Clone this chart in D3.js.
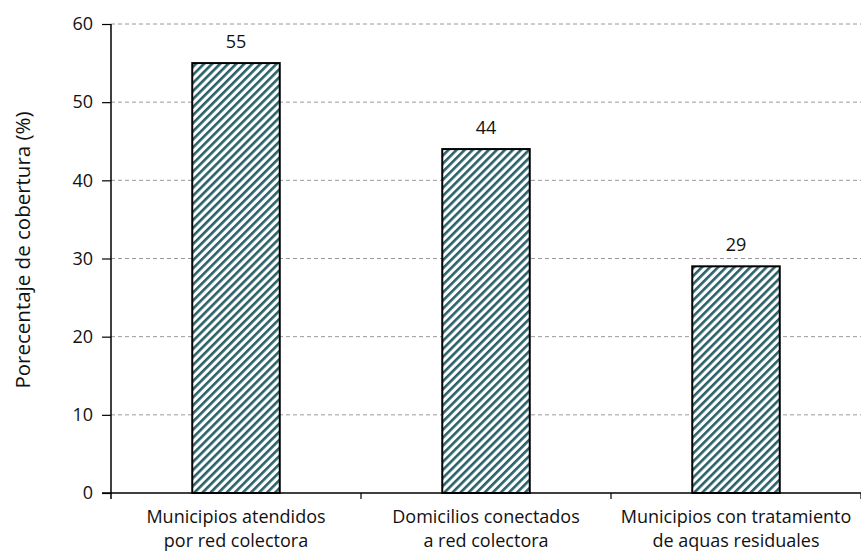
<!DOCTYPE html>
<html>
<head>
<meta charset="utf-8">
<script src="https://cdn.jsdelivr.net/npm/d3@7"></script>
<style>
  html, body { margin: 0; padding: 0; background: #fff; }
  svg { display: block; font-family: "Open Sans", "Noto Sans", sans-serif; }
</style>
</head>
<body>
<svg id="chart" width="861" height="555"></svg>
<script>
// Coverage of sewerage services
const categories = [
  ["Municipios atendidos", "por red colectora"],
  ["Domicilios conectados", "a red colectora"],
  ["Municipios con tratamiento", "de aquas residuales"]
];
const values = [55, 44, 29];
const yTicks = [0, 10, 20, 30, 40, 50, 60];
const yTitle = "Porecentaje de cobertura (%)";

const svg = d3.select("#chart");
const W = 861, H = 555;
const margin = { left: 111, right: 0, top: 24, bottom: 62 };

const x = d3.scaleBand()
  .domain(d3.range(values.length))
  .range([margin.left, W - margin.right])
  .paddingInner(0.65)
  .paddingOuter(0.325);

const y = d3.scaleLinear()
  .domain([0, 60])
  .range([H - margin.bottom, margin.top]);

// hatch fill
const defs = svg.append("defs");
const P = 5.7;
const pat = defs.append("pattern")
  .attr("id", "hatch")
  .attr("patternUnits", "userSpaceOnUse")
  .attr("width", P)
  .attr("height", P)
  .attr("patternTransform", "rotate(45)");
pat.append("rect").attr("width", P).attr("height", P).attr("fill", "#ffffff");
pat.append("rect").attr("x", 0).attr("y", 0).attr("width", 2.6).attr("height", P).attr("fill", "#2a6168");

// gridlines
svg.append("g")
  .selectAll("line")
  .data(yTicks.filter(d => d > 0))
  .join("line")
  .attr("x1", margin.left)
  .attr("x2", W)
  .attr("y1", d => y(d))
  .attr("y2", d => y(d))
  .attr("stroke", "#9a9a9a")
  .attr("stroke-width", 1)
  .attr("stroke-dasharray", "4,3");

// y axis
const yAxis = svg.append("g")
  .attr("transform", `translate(${margin.left},0)`)
  .call(d3.axisLeft(y).tickValues(yTicks).tickSize(9).tickPadding(9).tickSizeOuter(0));
yAxis.select(".domain").attr("stroke", "#000").attr("stroke-width", 1.5)
  .attr("d", `M0,${y(60)}V${y(0) + 6}`);
yAxis.selectAll(".tick line").attr("stroke", "#000").attr("stroke-width", 1.2);
yAxis.selectAll(".tick text").attr("font-size", 18).attr("fill", "#111")
  .attr("font-family", "'Open Sans', sans-serif");

// x axis
const bandEdges = [0, 1, 2].map(i => x(i) - x.step() * x.paddingInner() / 2);
const xAxisG = svg.append("g").attr("transform", `translate(0,${y(0)})`);
xAxisG.append("line")
  .attr("x1", margin.left - 9).attr("x2", W)
  .attr("y1", 0).attr("y2", 0)
  .attr("stroke", "#000").attr("stroke-width", 1.5);
xAxisG.selectAll("line.tk")
  .data(bandEdges.slice(1).concat([W]))
  .join("line")
  .attr("class", "tk")
  .attr("x1", d => d).attr("x2", d => d)
  .attr("y1", 0).attr("y2", 6)
  .attr("stroke", "#000").attr("stroke-width", 1.2);

// bars
svg.append("g")
  .selectAll("rect")
  .data(values)
  .join("rect")
  .attr("x", (d, i) => x(i))
  .attr("y", d => y(d))
  .attr("width", x.bandwidth())
  .attr("height", d => y(0) - y(d))
  .attr("fill", "url(#hatch)")
  .attr("stroke", "#000")
  .attr("stroke-width", 2);

// value labels
svg.append("g")
  .selectAll("text")
  .data(values)
  .join("text")
  .attr("x", (d, i) => x(i) + x.bandwidth() / 2)
  .attr("y", d => y(d) - 15)
  .attr("text-anchor", "middle")
  .attr("font-size", 18)
  .attr("fill", "#111")
  .text(d => d);

// category labels
const cat = svg.append("g")
  .selectAll("text")
  .data(categories)
  .join("text")
  .attr("x", (d, i) => x(i) + x.bandwidth() / 2)
  .attr("y", y(0) + 30)
  .attr("text-anchor", "middle")
  .attr("font-size", 18)
  .attr("fill", "#111");
cat.selectAll("tspan")
  .data(d => d)
  .join("tspan")
  .attr("x", function () { return d3.select(this.parentNode).attr("x"); })
  .attr("dy", (d, i) => i === 0 ? 0 : 24)
  .text(d => d);

// y title
svg.append("text")
  .attr("transform", `translate(30,${250}) rotate(-90)`)
  .attr("text-anchor", "middle")
  .attr("font-size", 20.5)
  .attr("fill", "#111")
  .text(yTitle);
</script>
</body>
</html>
